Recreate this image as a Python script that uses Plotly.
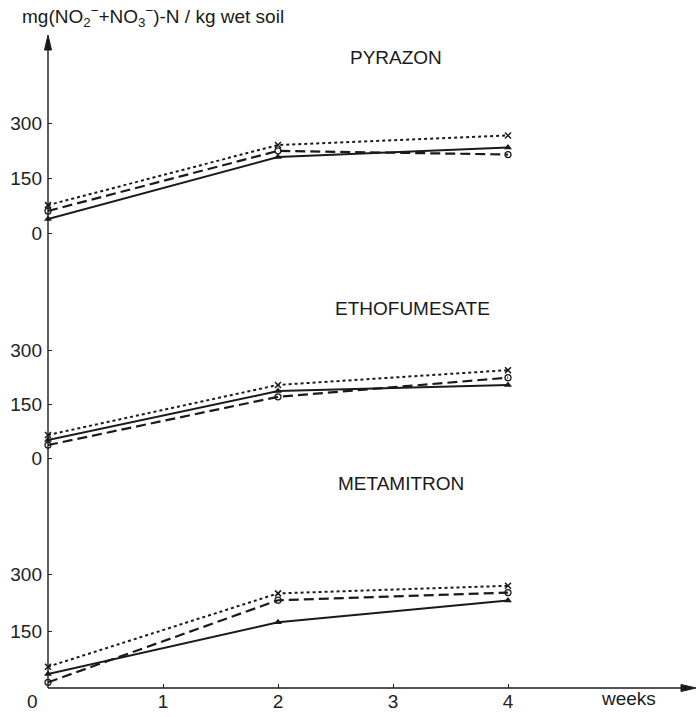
import plotly.graph_objects as go

# ---------------- data ----------------
weeks = [0, 2, 4]
panels = ["METAMITRON", "ETHOFUMESATE", "PYRAZON"]  # bottom -> top

# series: x-marker (dotted), open circle (dashed), filled triangle (solid)
pyrazon_x = [76, 240, 266]
pyrazon_o = [60, 224, 214]
pyrazon_t = [38, 207, 233]

ethofumesate_x = [64, 203, 244]
ethofumesate_o = [36, 170, 223]
ethofumesate_t = [50, 186, 203]

metamitron_x = [56, 249, 269]
metamitron_o = [15, 231, 251]
metamitron_t = [37, 173, 230]

y_ticks = [0, 150, 300]
x_ticks = [0, 1, 2, 3, 4]
x_ticktext = ["0\u00a0\u00a0\u00a0\u00a0\u00a0\u00a0", "1", "2", "3", "4"]

# ---------------- layout geometry (pixels) ----------------
W, H = 696, 717
L, B, T = 48, 29, 0
PH = H - B - T  # plot height in px (688)
PW = W - L
PX_PER_WEEK = 115.0
FONT = "Liberation Sans, Arial, sans-serif"
INK = "#1a1a1a"


def pp(p):  # pixel row -> paper y
    return (PH - p) / PH


def px(x):  # pixel column -> paper x
    return (x - L) / PW


def axis_cfg(p_bottom, p_top, p_zero, px_per_150):
    k = 150.0 / px_per_150
    return dict(
        domain=[pp(p_bottom), pp(p_top)],
        range=[-(p_bottom - p_zero) * k, (p_zero - p_top) * k],
        showgrid=False, zeroline=False, showline=False,
        ticks="inside", ticklen=4, tickwidth=1.2, tickcolor="#222",
        tickfont=dict(family=FONT, size=19, color="#222"),
        anchor="x", ticklabelstandoff=5,
    )


fig = go.Figure()

data = {
    "y": (metamitron_x, metamitron_o, metamitron_t),
    "y2": (ethofumesate_x, ethofumesate_o, ethofumesate_t),
    "y3": (pyrazon_x, pyrazon_o, pyrazon_t),
}
for yax, (sx, so, st) in data.items():
    fig.add_trace(go.Scatter(x=weeks, y=sx, yaxis=yax, mode="lines+markers", cliponaxis=False,
                             line=dict(color=INK, width=2, dash="dot"),
                             marker=dict(symbol="x-thin", size=6, line=dict(width=1.5, color=INK)),
                             showlegend=False))
    fig.add_trace(go.Scatter(x=weeks, y=so, yaxis=yax, mode="lines+markers", cliponaxis=False,
                             line=dict(color=INK, width=2.2, dash="10px,5px"),
                             marker=dict(symbol="circle-open", size=6, line=dict(width=1.3, color=INK)),
                             showlegend=False))
    fig.add_trace(go.Scatter(x=weeks, y=st, yaxis=yax, mode="lines+markers", cliponaxis=False,
                             line=dict(color=INK, width=2),
                             marker=dict(symbol="triangle-up", size=7, color=INK),
                             showlegend=False))

y1 = axis_cfg(688, 520, 688, 57)
y1["range"] = [0, y1["range"][1]]
y1["tickvals"] = [150, 300]
y2 = axis_cfg(470, 290, 458, 54)
y2["tickvals"] = y_ticks
y3 = axis_cfg(245, 35, 233, 55)
y3["tickvals"] = y_ticks

fig.update_layout(
    width=W, height=H,
    margin=dict(l=L, r=0, t=T, b=B),
    paper_bgcolor="white", plot_bgcolor="white",
    font=dict(family=FONT, color=INK),
    xaxis=dict(range=[0, PW / PX_PER_WEEK], tickvals=x_ticks, ticktext=x_ticktext,
               showgrid=False, zeroline=False, showline=False, anchor="y",
               ticks="inside", ticklen=4, tickwidth=1.2, tickcolor="#222",
               tickfont=dict(family=FONT, size=19, color="#222")),
    yaxis=y1, yaxis2=y2, yaxis3=y3,
)

# axis lines with arrow heads (paper coordinates)
fig.add_shape(type="line", xref="paper", yref="paper", x0=0, x1=0, y0=0, y1=pp(46),
              line=dict(color=INK, width=1.4))
fig.add_shape(type="path", xref="paper", yref="paper", fillcolor=INK, line=dict(color=INK, width=1),
              path=f"M {px(48)} {pp(35)} L {px(44.5)} {pp(50)} L {px(51.5)} {pp(50)} Z")
fig.add_shape(type="line", xref="paper", yref="paper", x0=0, x1=px(684), y0=0, y1=0,
              line=dict(color=INK, width=1.4))
fig.add_shape(type="path", xref="paper", yref="paper", fillcolor=INK, line=dict(color=INK, width=1),
              path=f"M {px(696)} {pp(688)} L {px(681)} {pp(684.5)} L {px(681)} {pp(691.5)} Z")

# panel titles
titles = [("PYRAZON", 396, 45), ("ETHOFUMESATE", 412, 308), ("METAMITRON", 401, 496)]
for txt, cx, cy in titles:
    fig.add_annotation(x=px(cx), y=pp(cy), xref="paper", yref="paper", xanchor="center",
                       text=txt, showarrow=False, font=dict(family=FONT, size=19, color=INK))

# axis titles
fig.add_annotation(x=px(20), y=pp(16), xref="paper", yref="paper",
                   xanchor="left", yanchor="middle", showarrow=False,
                   text="mg(NO<sub>2</sub><sup>\u2212</sup>+NO<sub>3</sub><sup>\u2212</sup>)-N / kg wet soil",
                   font=dict(family=FONT, size=19, color=INK))
fig.add_annotation(x=px(628), y=pp(686), xref="paper", yref="paper",
                   xanchor="center", yanchor="top",
                   text="weeks", showarrow=False, font=dict(family=FONT, size=19, color=INK))

fig.write_html("out.html")
